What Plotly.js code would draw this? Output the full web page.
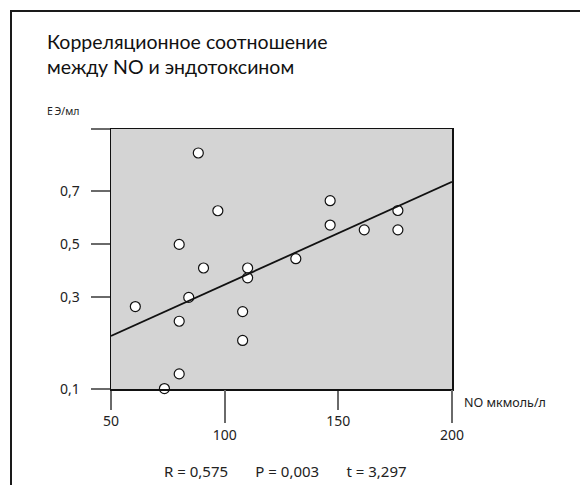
<!DOCTYPE html>
<html>
<head>
<meta charset="utf-8">
<script src="https://cdn.plot.ly/plotly-3.0.1.min.js"></script>
<style>
  html, body { margin: 0; padding: 0; background: #ffffff; }
  #wrap { position: relative; width: 580px; height: 485px; overflow: hidden; background: #ffffff; }
  #chart { position: absolute; left: 0; top: 0; width: 580px; height: 485px; z-index: 1; }
  #frame { position: absolute; left: 10px; top: 10px; width: 700px; height: 700px; z-index: 5;
           border-left: 2px solid #1a1a1a; border-top: 2px solid #1a1a1a; pointer-events: none; box-sizing: border-box; }
</style>
</head>
<body>
<div id="wrap">
  <div id="chart"></div>
  <div id="frame"></div>
</div>
<script>
// ---- data ----
// x: NO, мкмоль/л ; y: ЕЭ/мл
const xNO = [88.4, 97.0, 80.0, 90.7, 110.1, 110.1, 84.2, 60.7, 107.9, 80.0, 107.9, 80.0, 73.5, 146.4, 176.2, 146.4, 161.4, 176.2, 131.3];
const yEU = [0.845, 0.627, 0.50, 0.411, 0.411, 0.374, 0.30, 0.280, 0.269, 0.248, 0.206, 0.133, 0.101, 0.665, 0.628, 0.573, 0.555, 0.555, 0.446];

// regression line end points
const fitX = [50, 200];
const fitY = [0.216, 0.736];

const yTickValues = [0.1, 0.3, 0.5, 0.7];
const yTickLabels = ['0,1', '0,3', '0,5', '0,7'];
const xTickLower = [50, 150];     // short ticks, upper label row
const xTickUpper = [100, 200];    // long ticks, lower label row

const titleText = 'Корреляционное соотношение<br>между NO и эндотоксином';
const yUnit = 'Е\u2009Э/мл';
const xUnit = 'NO мкмоль/л';
const NB = '\u00a0';
const statsText = 'R =' + NB + '0,575' + NB.repeat(7) + 'P = 0,003' + NB.repeat(7) + 't = 3,297';

// The original y axis is broken: the 0,1–0,3 band is drawn taller
// (1.728×) than the 0,3–0,7 band. Map values onto a linear drawing axis.
const BREAK = 0.3, STRETCH = 1.728;
const yScale = v => v >= BREAK ? v : BREAK - (BREAK - v) * STRETCH;
const yLow = yScale(0.1), yHigh = 0.9355;

// plot-area geometry (pixels)
const L = 111, R = 451.7, T = 129.3, B = 389.3;
const W = 580, H = 485;
const px = x => (x - L) / (R - L);
const py = y => (B - y) / (B - T);

const traces = [
  {
    type: 'scatter', mode: 'lines', x: fitX, y: fitY.map(yScale),
    xaxis: 'x2', yaxis: 'y',
    line: { color: '#111', width: 1.8 }, hoverinfo: 'skip'
  },
  {
    type: 'scatter', mode: 'markers', x: xNO, y: yEU.map(yScale),
    marker: { size: 10, color: '#ffffff', line: { color: '#111', width: 1.2 } },
    cliponaxis: false
  }
];

const tickFont = { family: 'Noto Sans, Open Sans, sans-serif', size: 14, color: '#222' };

const layout = {
  width: W, height: H,
  margin: { l: L, r: W - R, t: T, b: H - B, pad: 0 },
  paper_bgcolor: 'rgba(0,0,0,0)',
  plot_bgcolor: '#d4d4d4',
  showlegend: false,
  xaxis: {
    range: [50, 200], showgrid: false, zeroline: false,
    showline: true, linecolor: '#111', linewidth: 1.5, mirror: true,
    tickmode: 'array', tickvals: xTickLower, ticktext: xTickLower.map(String),
    ticks: 'outside', ticklen: 19, tickwidth: 2, tickcolor: '#6a6a6a',
    ticklabelstandoff: 0,
    tickfont: tickFont
  },
  xaxis2: {
    range: [50, 200], overlaying: 'x', side: 'bottom', anchor: 'y',
    showgrid: false, zeroline: false, showline: false,
    tickmode: 'array', tickvals: xTickUpper, ticktext: xTickUpper.map(String),
    ticks: 'outside', ticklen: 33, tickwidth: 2, tickcolor: '#6a6a6a',
    ticklabelstandoff: 0,
    tickfont: tickFont
  },
  yaxis: {
    range: [yLow, yHigh], showgrid: false, zeroline: false,
    showline: true, linecolor: '#111', linewidth: 1.5, mirror: true,
    tickmode: 'array',
    tickvals: yTickValues.map(yScale).concat([yHigh - 0.0005]),
    ticktext: yTickLabels.concat(['']),
    ticks: 'outside', ticklen: 19, tickwidth: 2, tickcolor: '#6a6a6a',
    ticklabelstandoff: 8,
    tickfont: tickFont
  },
  annotations: [
    { text: titleText, xref: 'paper', yref: 'paper', x: px(45), y: py(28), xanchor: 'left', yanchor: 'top',
      align: 'left', showarrow: false,
      font: { family: 'Lato, Noto Sans, sans-serif', size: 19.5, color: '#111' } },
    { text: yUnit, xref: 'paper', yref: 'paper', x: px(64), y: py(111), xanchor: 'center', yanchor: 'middle',
      showarrow: false, font: { family: 'Noto Sans, Open Sans, sans-serif', size: 10.5, color: '#222' } },
    { text: xUnit, xref: 'paper', yref: 'paper', x: px(462), y: py(403), xanchor: 'left', yanchor: 'middle',
      showarrow: false, font: { family: 'Noto Sans, Open Sans, sans-serif', size: 12.5, color: '#222' } },
    { text: statsText, xref: 'paper', yref: 'paper', x: px(162), y: py(471), xanchor: 'left', yanchor: 'middle',
      showarrow: false, font: { family: 'Noto Sans, Open Sans, sans-serif', size: 15, color: '#222' } }
  ]
};

Plotly.newPlot('chart', traces, layout, { displayModeBar: false, staticPlot: true });
</script>
</body>
</html>
